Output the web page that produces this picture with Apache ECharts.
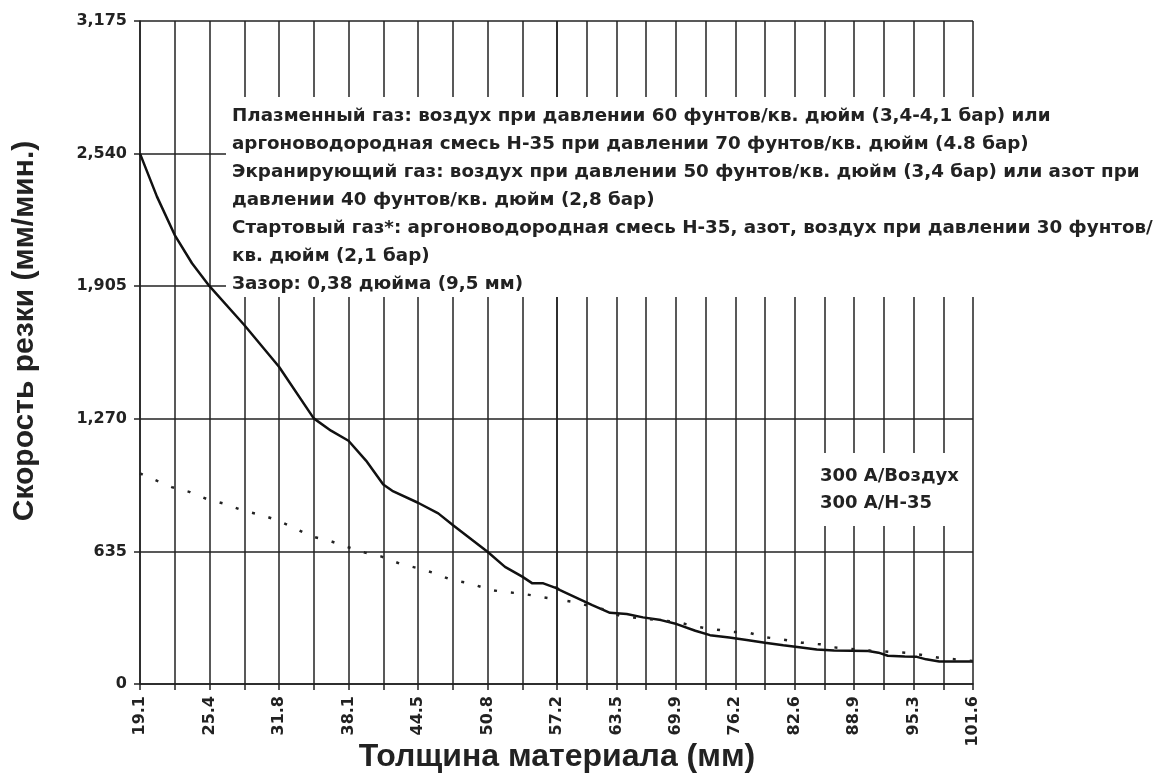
<!DOCTYPE html>
<html>
<head>
<meta charset="utf-8">
<script src="https://cdn.jsdelivr.net/npm/echarts/dist/echarts.min.js"></script>
<style>
  html, body { margin: 0; padding: 0; background: #fff; }
  #chart { width: 1160px; height: 776px; }
</style>
</head>
<body>
<div id="chart"></div>
<script>
// подписи осей
var xTickLabels = ['19.1', '25.4', '31.8', '38.1', '44.5', '50.8', '57.2', '63.5', '69.9', '76.2', '82.6', '88.9', '95.3', '101.6'];
var yTickLabels = ['0', '635', '1,270', '1,905', '2,540', '3,175'];
var legendNames = ['300 A/Воздух', '300 A/H-35'];

// 300 A / воздух (сплошная)
var airX = [19.05, 20.6, 22.225, 23.8, 25.4, 28.575, 31.75, 34.925, 36.5, 38.1, 39.7, 41.275, 42.1, 44.45, 46.3, 47.625,
            50.8, 52.4, 53.975, 54.9, 55.9, 57.15, 57.47, 60.92, 62.81, 64.6, 66.34, 68.26, 69.94, 71.93, 73.5, 75.56,
            77.42, 79.37, 81.33, 83.04, 84.9, 86.75, 90.4, 91.5, 92.5, 94.3, 95.6, 96.6, 98.0, 101.6];
var airY = [2540, 2334, 2150, 2015, 1905, 1719, 1519, 1272, 1213, 1165, 1070, 955, 925, 868, 817, 761,
            633, 561, 514, 482, 482, 458, 450, 378, 341, 335, 319, 306, 287, 255, 234, 223,
            211, 198, 186, 176, 165, 160, 158, 150, 135, 132, 130, 118, 108, 108];

// 300 A / H-35 (точечная)
var h35X = [19.05, 20.42, 21.95, 23.62, 25.2, 26.82, 28.49, 30.17, 31.54, 33.06, 34.58, 36.35, 38.08, 39.61, 41.13,
            42.81, 44.48, 46.0, 47.53, 49.2, 50.96, 52.24, 53.92, 55.6, 57.12, 58.86, 62.46, 63.88, 66.55, 70.08,
            71.68, 73.82, 75.82, 77.56, 79.56, 81.3, 83.3, 85.25, 86.64, 90.6, 94.9, 98.1, 101.6];
var h35Y = [1009, 977, 943, 919, 885, 862, 830, 809, 785, 750, 709, 686, 655, 629, 610,
            576, 554, 530, 498, 482, 452, 441, 433, 418, 405, 393, 354, 326, 312, 297,
            277, 263, 250, 246, 223, 213, 198, 190, 176, 160, 148, 125, 110];

var noteLines = [
  'Плазменный газ: воздух при давлении 60 фунтов/кв. дюйм (3,4-4,1 бар) или',
  'аргоноводородная смесь H-35 при давлении 70 фунтов/кв. дюйм (4.8 бар)',
  'Экранирующий газ: воздух при давлении 50 фунтов/кв. дюйм (3,4 бар) или азот при',
  'давлении 40 фунтов/кв. дюйм (2,8 бар)',
  'Стартовый газ*: аргоноводородная смесь H-35, азот, воздух при давлении 30 фунтов/',
  'кв. дюйм (2,1 бар)',
  'Зазор: 0,38 дюйма (9,5 мм)'
];

function pairs(xs, ys) {
  var out = [];
  for (var i = 0; i < xs.length; i++) out.push([xs[i], ys[i]]);
  return out;
}

var ink = '#222';
var tickFont = { fontFamily: 'DejaVu Sans', fontWeight: 'bold', fontSize: 16, color: ink };

function xLabel(v) {
  var k = Math.round((v - 19.05) / 3.175);
  return k % 2 === 0 ? xTickLabels[k / 2] : '';
}

function xAxisOpt(grid, min, max) {
  return {
    type: 'value', gridIndex: grid, min: min, max: max, interval: 3.175,
    axisLine: { onZero: false, lineStyle: { color: ink, width: 1.5 } },
    axisTick: { length: 6, lineStyle: { color: ink, width: 1.5 } },
    splitLine: { show: true, lineStyle: { color: ink, width: 1.5 } },
    axisLabel: Object.assign({ rotate: 90, margin: 12, formatter: xLabel,
                               showMinLabel: grid === 0, showMaxLabel: true }, tickFont)
  };
}

function yAxisOpt(grid) {
  return {
    type: 'value', gridIndex: grid, min: 0, max: 3175, interval: 635,
    axisLine: { show: grid === 0, lineStyle: { color: ink, width: 1.5 } },
    axisTick: { show: grid === 0, length: 6, lineStyle: { color: ink, width: 1.5 } },
    splitLine: { show: true, lineStyle: { color: ink, width: 1.5 } },
    axisLabel: Object.assign({ show: grid === 0, margin: 13,
      formatter: function (v) { return yTickLabels[Math.round(v / 635)]; } }, tickFont)
  };
}

function seriesFor(name, data, grid, dashed) {
  return {
    name: name, type: 'line', xAxisIndex: grid, yAxisIndex: grid,
    data: data, symbol: 'none', clip: true,
    lineStyle: dashed ? { color: '#222', width: 2.5, type: [3, 14] } : { color: '#111', width: 2.5 }
  };
}

var airData = pairs(airX, airY);
var h35Data = pairs(h35X, h35Y);

var chart = echarts.init(document.getElementById('chart'), null, { renderer: 'canvas' });
chart.setOption({
  animation: false,
  backgroundColor: '#fff',
  grid: [
    { left: 140, top: 21, width: 417, height: 663 },
    { left: 557, top: 21, width: 416, height: 663 }
  ],
  xAxis: [xAxisOpt(0, 19.05, 57.15), xAxisOpt(1, 57.15, 101.6)],
  yAxis: [yAxisOpt(0), yAxisOpt(1)],
  legend: {
    data: legendNames, orient: 'vertical', left: 809, top: 462,
    icon: 'none', itemWidth: 1, itemHeight: 1, itemGap: 9,
    selectedMode: false,
    textStyle: { fontFamily: 'DejaVu Sans', fontWeight: 'bold', fontSize: 18, color: ink }
  },
  series: [
    seriesFor(legendNames[0], airData, 0, false),
    seriesFor(legendNames[0], airData, 1, false),
    seriesFor(legendNames[1], h35Data, 0, true),
    seriesFor(legendNames[1], h35Data, 1, true)
  ],
  graphic: [
    { type: 'rect', z: 3, shape: { x: 226, y: 97, width: 934, height: 200 }, style: { fill: '#fff' } },
    { type: 'rect', z: 3, shape: { x: 800, y: 453, width: 172, height: 73 }, style: { fill: '#fff' } },
    { type: 'text', z: 5, x: 232, y: 102,
      style: { text: noteLines.join('\n'), lineHeight: 28, fill: ink,
               font: 'bold 18.3px "DejaVu Sans"', textVerticalAlign: 'top' } },
    { type: 'text', z: 5, x: 25, y: 331, rotation: Math.PI / 2,
      style: { text: 'Скорость резки (мм/мин.)', fill: ink, font: 'bold 30px "Liberation Sans"',
               textAlign: 'center', textVerticalAlign: 'middle' } },
    { type: 'text', z: 5, x: 557, y: 757,
      style: { text: 'Толщина материала (мм)', fill: ink, font: 'bold 32px "Liberation Sans"',
               textAlign: 'center', textVerticalAlign: 'middle' } }
  ]
});
</script>
</body>
</html>
